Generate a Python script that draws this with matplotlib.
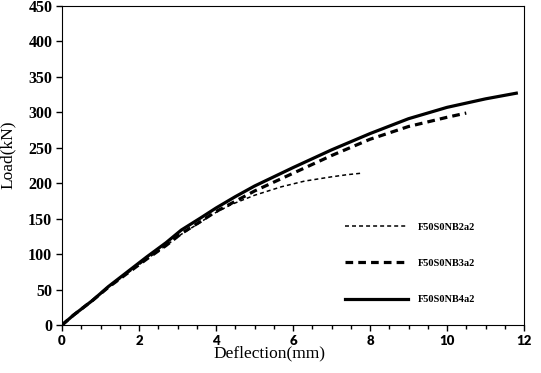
import matplotlib.pyplot as plt

plt.rcParams['font.family'] = ['Liberation Serif', 'DejaVu Serif']

# 试件荷载-挠度数据
x_nb2 = [0, 0.3, 0.8, 1.2, 1.7, 2.2, 2.7, 3.1, 3.6, 3.9, 4.4, 5, 5.7, 6.3, 7, 7.4, 7.75]
y_nb2 = [0, 14, 35, 53, 73, 93, 112, 128, 145, 156, 170, 183, 195, 203, 209, 212, 214]

x_nb3 = [0, 0.3, 0.8, 1.2, 1.7, 2.2, 2.7, 3.1, 3.6, 4, 5, 6, 7, 8, 9, 10, 10.5]
y_nb3 = [0, 14, 35, 53, 73, 93, 112, 129, 146, 160, 189, 214, 239, 262, 280, 293, 299]

x_nb4 = [0, 0.3, 0.8, 1.2, 1.7, 2.2, 2.7, 3.1, 3.6, 4, 4.5, 5, 6, 7, 8, 9, 10, 11, 11.8]
y_nb4 = [0, 14, 35, 54, 75, 96, 116, 134, 151, 165, 181, 196, 222, 247, 270, 291, 307, 319, 327]

fig = plt.figure(figsize=(5.41, 3.73), dpi=100)
ax = fig.add_axes([62 / 541, 48 / 373, 462 / 541, 319 / 373])

ax.plot(x_nb2, y_nb2, color='black', lw=1.1, dashes=(2.6, 2), label='F50S0NB2a2')
ax.plot(x_nb3, y_nb3, color='black', lw=2.3, dashes=(2.4, 1.6), label='F50S0NB3a2')
ax.plot(x_nb4, y_nb4, color='black', lw=2.3, label='F50S0NB4a2')

ax.set_xlim(0, 12)
ax.set_ylim(0, 450)
ax.set_xticks(range(0, 13, 2))
ax.set_xticks([i * 0.5 for i in range(25)], minor=True)
ax.set_yticks(range(0, 451, 50))
ax.tick_params(direction='out', length=4, width=1, pad=3)
ax.tick_params(which='minor', direction='out', length=3, width=1)
for lab in ax.get_yticklabels():
    lab.set_fontweight('bold')
    lab.set_fontsize(11.5)
for lab in ax.get_xticklabels():
    lab.set_fontweight('heavy')
    lab.set_fontsize(9.5)
    lab.set_family(['Lato', 'DejaVu Sans'])

ax.set_xlabel('Deflection(mm)', fontsize=12.5, labelpad=0)
ax.set_ylabel('Load(kN)', fontsize=12.5)
ax.xaxis.set_label_coords(0.448, -0.065)
ax.yaxis.set_label_coords(-0.100, 0.533)

leg = ax.legend(loc='lower right', bbox_to_anchor=(0.915, 0.035), frameon=False,
                prop={'size': 7.5, 'weight': 'bold'}, handlelength=6,
                labelspacing=2.6, handletextpad=1.0)

fig.savefig('out.png', dpi=100)
